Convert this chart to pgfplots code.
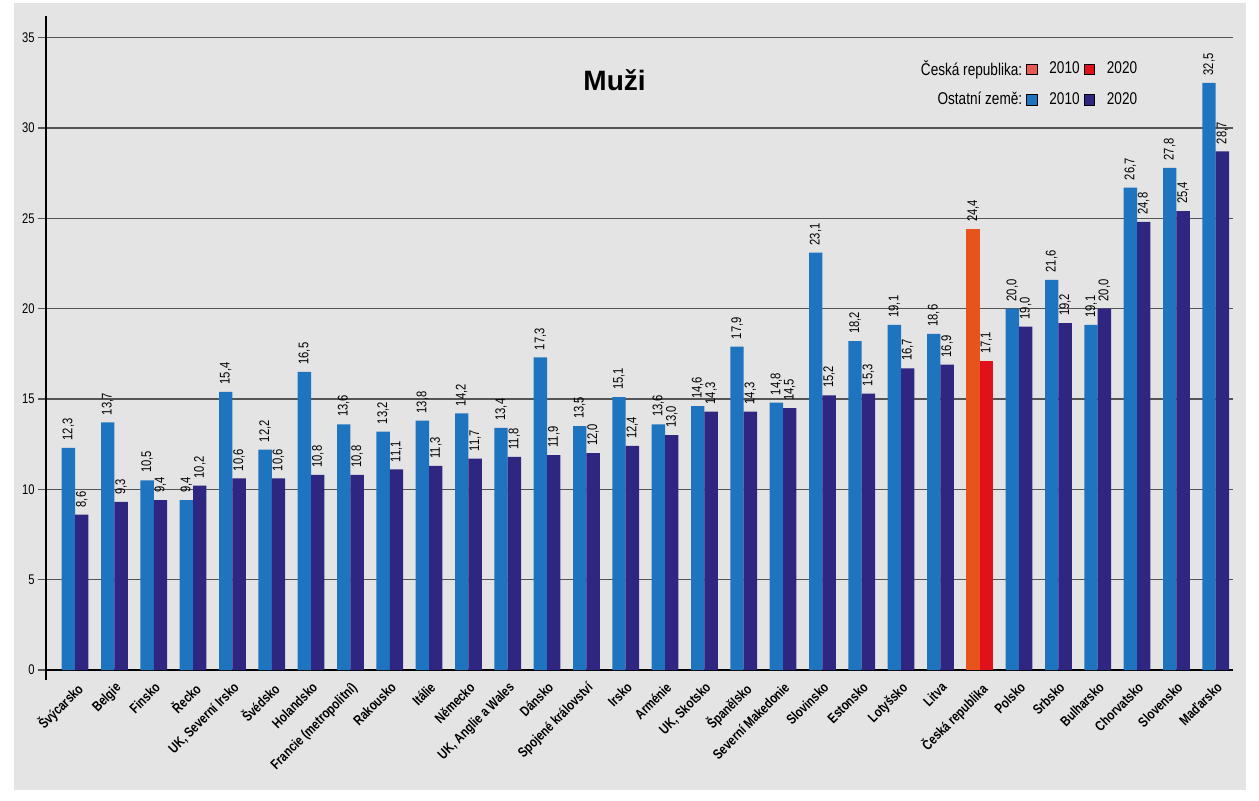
\documentclass[border=0pt]{standalone}
\usepackage{pgfplots}
\pgfplotsset{compat=1.18}
\usepackage{pgfplotstable}
\usepackage{fontspec}
\setmainfont{Liberation Sans}
\newfontfamily\condfont{Liberation Sans}[FakeStretch=0.8]
\definecolor{bg}{HTML}{E4E4E4}
\definecolor{b10}{HTML}{1F74BF}
\definecolor{b20}{HTML}{2E2680}
\definecolor{cz10}{HTML}{E8531D}
\definecolor{cz20}{HTML}{E0111B}
\definecolor{czleg}{HTML}{E85A52}
\definecolor{gridc}{HTML}{555555}

\pgfplotstableread{
x v10 v20
0 12.3 8.6
1 13.7 9.3
2 10.5 9.4
3 9.4 10.2
4 15.4 10.6
5 12.2 10.6
6 16.5 10.8
7 13.6 10.8
8 13.2 11.1
9 13.8 11.3
10 14.2 11.7
11 13.4 11.8
12 17.3 11.9
13 13.5 12.0
14 15.1 12.4
15 13.6 13.0
16 14.6 14.3
17 17.9 14.3
18 14.8 14.5
19 23.1 15.2
20 18.2 15.3
21 19.1 16.7
22 18.6 16.9
24 20.0 19.0
25 21.6 19.2
26 19.1 20.0
27 26.7 24.8
28 27.8 25.4
29 32.5 28.7
}\dataother

\pgfplotstableread{
x v10 v20
23 24.4 17.1
}\datacz

\begin{document}
\begin{tikzpicture}[x=0.5pt,y=0.5pt]
\fill[white] (0,0) rectangle (1259,800);
\fill[bg] (14,10) rectangle (1246,797);
\begin{axis}[
  at={(23pt,65pt)}, anchor=south west,
  scale only axis, width=593.5pt, height=327pt,
  xmin=-0.74, xmax=29.44, ymin=0, ymax=36.2,
  axis x line*=bottom, axis y line*=left,
  axis line style={-, black, line width=1pt},
  ytick={0,5,...,35},
  ymajorgrids, grid style={gridc, line width=0.75pt},
  ytick style={gridc, line width=0.75pt},
  major tick length=4pt, tick align=outside,
  /pgf/number format/assume math mode=true,
  yticklabel style={font=\condfont\fontsize{7}{8}\selectfont, inner sep=1.5pt},
  xtick={0,...,29},
  xtick style={draw=none},
  xticklabels={Švýcarsko, Belgie, Finsko, Řecko, {UK, Severní Irsko}, Švédsko, Holandsko, Francie (metropolitní), Rakousko, Itálie, Německo, {UK, Anglie a Wales}, Dánsko, Spojené království, Irsko, Arménie, {UK, Skotsko}, Španělsko, Severní Makedonie, Slovinsko, Estonsko, Lotyšsko, Litva, Česká republika, Polsko, Srbsko, Bulharsko, Chorvatsko, Slovensko, Maďarsko},
  xticklabel style={rotate=45, anchor=north east, font=\condfont\bfseries\fontsize{7}{8}\selectfont, inner sep=1pt},
  nodes near coords={\pgfmathprintnumber[use comma,fixed,fixed zerofill,precision=1,assume math mode=true]{\pgfplotspointmeta}},
  nodes near coords style={rotate=90, anchor=west, font=\condfont\fontsize{7}{8}\selectfont, inner xsep=3.5pt, inner ysep=0pt, black},
  legend columns=3,
  legend cell align=right,
  legend style={draw=none, fill=none, at={(0.928,0.945)}, anchor=north east,
    font=\condfont\fontsize{8.5}{10}\selectfont, row sep=3pt,
    /tikz/every odd column/.append style={column sep=4pt}},
  legend image code/.code={\fill[#1] (0pt,-2.6pt) rectangle (5.2pt,2.6pt);},
  clip=false,
]
\addplot[ybar, bar width=0.34, bar shift=0, fill=b10, draw=none, forget plot] table[x expr=\thisrow{x}-0.17,y=v10]{\dataother};
\addplot[ybar, bar width=0.34, bar shift=0, fill=b20, draw=none, forget plot] table[x expr=\thisrow{x}+0.17,y=v20]{\dataother};
\addplot[ybar, bar width=0.34, bar shift=0, fill=cz10, draw=none, forget plot] table[x expr=\thisrow{x}-0.17,y=v10]{\datacz};
\addplot[ybar, bar width=0.34, bar shift=0, fill=cz20, draw=none, forget plot] table[x expr=\thisrow{x}+0.17,y=v20]{\datacz};
\addlegendimage{empty legend}\addlegendentry{Česká republika:}
\addlegendimage{fill=czleg}\addlegendentry{2010}
\addlegendimage{fill=cz20}\addlegendentry{2020}
\addlegendimage{empty legend}\addlegendentry{Ostatní země:}
\addlegendimage{fill=b10}\addlegendentry{2010}
\addlegendimage{fill=b20}\addlegendentry{2020}
\node[font=\bfseries\fontsize{14}{16}\selectfont] at (rel axis cs:0.479,0.902) {Muži};
\draw[black, line width=1pt] (axis cs:-0.74,0) -- ++(0pt,-5pt);
\end{axis}
\pgfresetboundingbox
\path (0,0) rectangle (1259,800);
\end{tikzpicture}
\end{document}
